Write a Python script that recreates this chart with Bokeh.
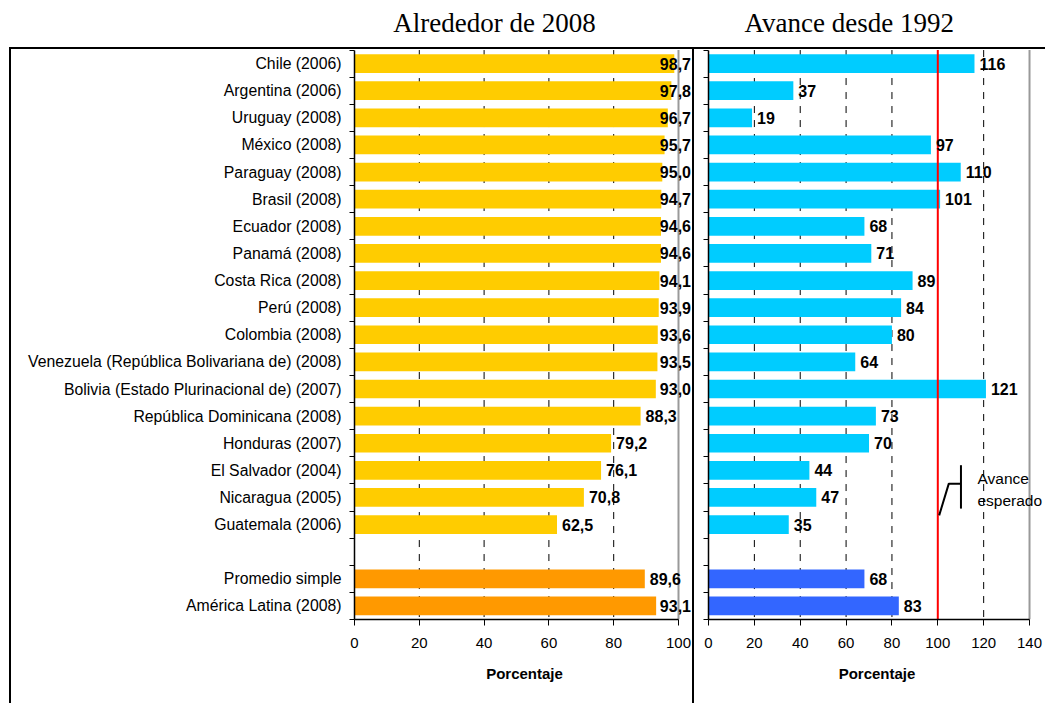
from bokeh.plotting import figure
from bokeh.layouts import row
from bokeh.models import (Range1d, FixedTicker, Label, LabelSet, ColumnDataSource)
from bokeh.core.properties import value
from bokeh.embed import file_html
from bokeh.resources import INLINE

# ---------------- data ----------------
categories = ["Chile (2006)", "Argentina (2006)", "Uruguay (2008)", "México (2008)",
              "Paraguay (2008)", "Brasil (2008)", "Ecuador (2008)", "Panamá (2008)",
              "Costa Rica (2008)", "Perú (2008)", "Colombia (2008)",
              "Venezuela (República Bolivariana de) (2008)",
              "Bolivia (Estado Plurinacional de) (2007)", "República Dominicana (2008)",
              "Honduras (2007)", "El Salvador (2004)", "Nicaragua (2005)", "Guatemala (2006)"]
summary_categories = ["Promedio simple", "América Latina (2008)"]

level_2008 = [98.7, 97.8, 96.7, 95.7, 95.0, 94.7, 94.6, 94.6, 94.1, 93.9, 93.6, 93.5,
              93.0, 88.3, 79.2, 76.1, 70.8, 62.5]
level_2008_summary = [89.6, 93.1]

progress_1992 = [116, 37, 19, 97, 110, 101, 68, 71, 89, 84, 80, 64, 121, 73, 70, 44, 47, 35]
progress_1992_summary = [68, 83]

left_ticks = [0, 20, 40, 60, 80, 100]
right_ticks = [0, 20, 40, 60, 80, 100, 120, 140]
left_grid = [20, 40, 60, 80]
right_grid = [20, 40, 60, 80, 120]
expected_progress = 100

title_left = "Alrededor de 2008"
title_right = "Avance desde 1992"
axis_title = "Porcentaje"
note_lines = ["Avance", "esperado"]

# ---------------- layout helpers ----------------
n_country = len(categories)
pos_country = list(range(n_country))
pos_summary = [n_country + 1 + i for i in range(len(summary_categories))]
n_rows = n_country + 1 + len(summary_categories)
boundaries = [i - 0.5 for i in range(n_rows + 1)]
row_top, row_bottom = -0.5, n_rows - 0.5

FONT = "Liberation Sans"
H = 703
PX_L = 3.24     # px per unit, left panel
PX_R = 2.293    # px per unit, right panel
ROW_PX = 27.1   # px per row
TOP_PAD = 49.5  # px above first row (title area)
TITLE_Y = row_top - 27.5 / ROW_PX


def base_fig(width, x_end, axis_max, min_left, grid_ticks, border_x):
    p = figure(width=width, height=H, output_backend="svg", toolbar_location=None,
               x_range=Range1d(0, x_end),
               y_range=Range1d(row_bottom, row_top - TOP_PAD / ROW_PX),
               min_border_left=min_left, min_border_right=0,
               min_border_top=0, min_border_bottom=84)
    p.outline_line_color = None
    p.grid.grid_line_color = None
    p.background_fill_color = None
    p.border_fill_color = None
    ax = p.xaxis[0]
    ax.bounds = (0, axis_max)
    ax.axis_line_color = "black"
    ax.axis_line_width = 1.5
    ax.major_tick_out = 6
    ax.major_tick_in = 0
    ax.minor_tick_line_color = None
    ax.major_label_standoff = 12
    ax.major_label_text_font = FONT
    ax.major_label_text_font_size = "15px"
    ax.major_label_text_color = "black"
    ax.axis_label = axis_title
    ax.axis_label_text_font = FONT
    ax.axis_label_text_font_size = "15px"
    ax.axis_label_text_font_style = "bold"
    ax.axis_label_text_color = "black"
    ax.axis_label_standoff = 14
    ay = p.yaxis[0]
    ay.bounds = (row_top, row_bottom)
    ay.axis_line_color = "black"
    ay.axis_line_width = 1.5
    ay.major_tick_out = 0
    ay.major_tick_in = 0
    ay.minor_tick_out = 5
    ay.minor_tick_in = 0
    ay.minor_tick_line_color = "black"
    # dashed vertical gridlines limited to the plotting rows
    p.segment(x0=grid_ticks, x1=grid_ticks, y0=[row_top] * len(grid_ticks),
              y1=[row_bottom] * len(grid_ticks), line_color="black", line_width=1,
              line_dash="7 7", level="underlay")
    # grey right border of the plotting area
    p.segment(x0=[border_x], x1=[border_x], y0=[row_top], y1=[row_bottom],
              line_color="#999999", line_width=2)
    return p


# ---------------- left panel ----------------
W1 = 694
p1 = base_fig(W1, (W1 - 354) / PX_L, 100, 354, left_grid, left_ticks[-1])
p1.xaxis[0].ticker = FixedTicker(ticks=left_ticks)

p1.yaxis[0].ticker = FixedTicker(ticks=pos_country + pos_summary, minor_ticks=boundaries)
overrides = {p: c for p, c in zip(pos_country, categories)}
overrides.update({p: c for p, c in zip(pos_summary, summary_categories)})
p1.yaxis[0].major_label_overrides = overrides
p1.yaxis[0].major_label_text_font = FONT
p1.yaxis[0].major_label_text_font_size = "15.8px"
p1.yaxis[0].major_label_text_color = "black"
p1.yaxis[0].major_label_standoff = 8

p1.hbar(y=pos_country, left=0, right=level_2008, height=0.69,
        fill_color="#FFCC00", line_color=None)
p1.hbar(y=pos_summary, left=0, right=level_2008_summary, height=0.69,
        fill_color="#FF9900", line_color=None)

all_left = level_2008 + level_2008_summary
src1 = ColumnDataSource(dict(
    x=[min(v, 92.7) for v in all_left],
    y=pos_country + pos_summary,
    t=[f"{v:.1f}".replace(".", ",") for v in all_left]))
p1.add_layout(LabelSet(x="x", y="y", text="t", source=src1, x_offset=5,
                       text_font=value(FONT), text_font_size=value("16px"),
                       text_font_style="bold", text_baseline="middle",
                       text_align="left", text_color="black"))

p1.add_layout(Label(x=43.2, y=TITLE_Y, text=title_left,
                    text_font="Liberation Serif", text_font_size="27px",
                    text_align="center", text_baseline="alphabetic", text_color="black"))

# outer frame lines (left, top, separator) drawn as CSS background of the page element
p1.styles = {
    "background-image": "linear-gradient(#000,#000), linear-gradient(#000,#000), linear-gradient(#000,#000)",
    "background-size": "2px 100%, 100% 2px, 2px 100%",
    "background-position": "9px 47px, 9px 47px, 692px 47px",
    "background-repeat": "no-repeat",
}

# ---------------- right panel ----------------
W2 = 351
p2 = base_fig(W2, (W2 - 14) / PX_R, 140, 14, right_grid, right_ticks[-1])
p2.xaxis[0].ticker = FixedTicker(ticks=right_ticks)
p2.yaxis[0].ticker = FixedTicker(ticks=[], minor_ticks=boundaries)

p2.hbar(y=pos_country, left=0, right=progress_1992, height=0.69,
        fill_color="#00CCFF", line_color=None)
p2.hbar(y=pos_summary, left=0, right=progress_1992_summary, height=0.69,
        fill_color="#3366FF", line_color=None)

all_right = progress_1992 + progress_1992_summary
src2 = ColumnDataSource(dict(
    x=all_right, y=pos_country + pos_summary, t=[str(v) for v in all_right]))
p2.add_layout(LabelSet(x="x", y="y", text="t", source=src2, x_offset=5,
                       text_font=value(FONT), text_font_size=value("16px"),
                       text_font_style="bold", text_baseline="middle",
                       text_align="left", text_color="black"))

# expected progress (red line)
p2.segment(x0=[expected_progress], x1=[expected_progress], y0=[row_top], y1=[row_bottom],
           line_color="#FF0000", line_width=2)

# "Avance esperado" marker
p2.line(x=[100.6, 104.8, 110.1], y=[16.66, 15.49, 15.49], line_color="black", line_width=2)
p2.line(x=[110.1, 110.1], y=[14.81, 16.41], line_color="black", line_width=2)
p2.add_layout(Label(x=117.3, y=15.31, text=note_lines[0], text_font=FONT,
                    text_font_size="15.5px", text_baseline="middle", text_align="left",
                    text_color="black"))
p2.add_layout(Label(x=117.3, y=16.11, text=note_lines[1], text_font=FONT,
                    text_font_size="15.5px", text_baseline="middle", text_align="left",
                    text_color="black"))

p2.add_layout(Label(x=61.4, y=TITLE_Y, text=title_right,
                    text_font="Liberation Serif", text_font_size="27px",
                    text_align="center", text_baseline="alphabetic", text_color="black"))

p2.styles = {
    "background-image": "linear-gradient(#000,#000)",
    "background-size": "100% 2px",
    "background-position": "0px 47px",
    "background-repeat": "no-repeat",
}

layout = row(p1, p2)
open("out.html", "w").write(file_html(layout, INLINE))
